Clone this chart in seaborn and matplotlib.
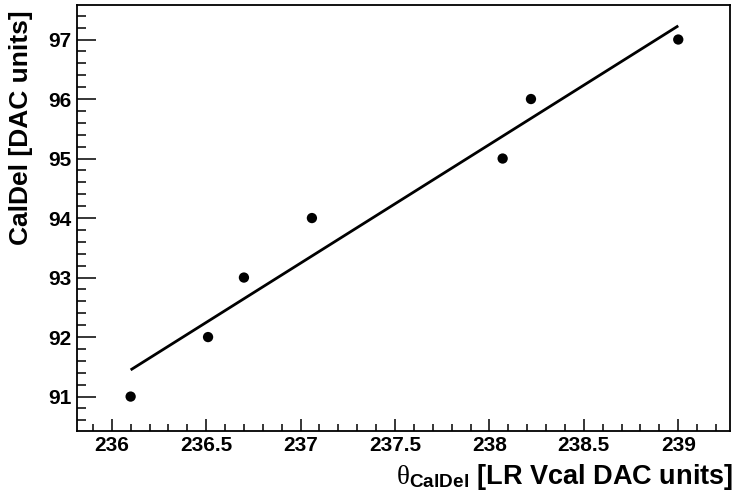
import matplotlib
matplotlib.use("Agg")
import matplotlib.pyplot as plt
import seaborn as sns
import numpy as np
import pandas as pd
from matplotlib.ticker import MultipleLocator

theta = [236.10, 236.51, 236.70, 237.06, 238.07, 238.22, 239.00]
caldel = [91, 92, 93, 94, 95, 96, 97]

x_ticks = [236, 236.5, 237, 237.5, 238, 238.5, 239]
x_tick_labels = ["236", "236.5", "237", "237.5", "238", "238.5", "239"]
y_ticks = [91, 92, 93, 94, 95, 96, 97]
y_tick_labels = ["91", "92", "93", "94", "95", "96", "97"]

sns.set_style("white")
plt.rcParams['font.family'] = ['Liberation Sans', 'DejaVu Sans']
plt.rcParams['mathtext.fontset'] = 'custom'
plt.rcParams['mathtext.rm'] = 'Liberation Serif'
plt.rcParams['mathtext.bf'] = 'Liberation Sans:bold'
plt.rcParams['mathtext.it'] = 'Liberation Serif:italic'
for k in ['text.color', 'axes.labelcolor', 'xtick.color', 'ytick.color', 'axes.edgecolor']:
    plt.rcParams[k] = 'black'

df = pd.DataFrame({"theta": theta, "caldel": caldel})

fig = plt.figure(figsize=(7.36, 4.95), dpi=100)
ax = fig.add_axes([77/736, 1 - 430.5/495, (730-77)/736, (430.5-5)/495])

sns.regplot(data=df, x="theta", y="caldel", ax=ax, ci=None, truncate=True,
            scatter_kws=dict(s=55, color="black", edgecolor="none", alpha=1, zorder=3),
            line_kws=dict(color="black", lw=2.0, solid_capstyle="butt"))

ax.set_xlim(235.816, 239.274)
ax.set_ylim(90.43, 97.58)

ax.set_xticks(x_ticks)
ax.set_xticklabels(x_tick_labels, fontsize=15, fontweight="bold")
ax.set_yticks(y_ticks)
ax.set_yticklabels(y_tick_labels, fontsize=15, fontweight="bold")
ax.xaxis.set_minor_locator(MultipleLocator(0.1))
ax.yaxis.set_minor_locator(MultipleLocator(0.2))

ax.tick_params(axis="x", which="major", direction="in", length=9, width=1.1, pad=4,
               bottom=True, top=False)
ax.tick_params(axis="x", which="minor", direction="in", length=4.8, width=1.1,
               bottom=True, top=False)
ax.tick_params(axis="y", which="major", direction="in", length=13.5, width=1.1, pad=4,
               left=True, right=False)
ax.tick_params(axis="y", which="minor", direction="in", length=6.5, width=1.1,
               left=True, right=False)

for sp in ax.spines.values():
    sp.set_color("black")
    sp.set_linewidth(1.3)
    sp.set_visible(True)

ax.set_xlabel(r"$\mathrm{\theta}_{\mathbf{CalDel}}$ [LR Vcal DAC units]",
              fontsize=19.5, fontweight="bold", loc="right")
ax.xaxis.set_label_coords(1.0046, -0.073)
ax.set_ylabel("CalDel [DAC units]", fontsize=19, fontweight="bold", loc="top")
ax.yaxis.set_label_coords(-0.0674, 0.988)

fig.savefig("out.png", dpi=100)
